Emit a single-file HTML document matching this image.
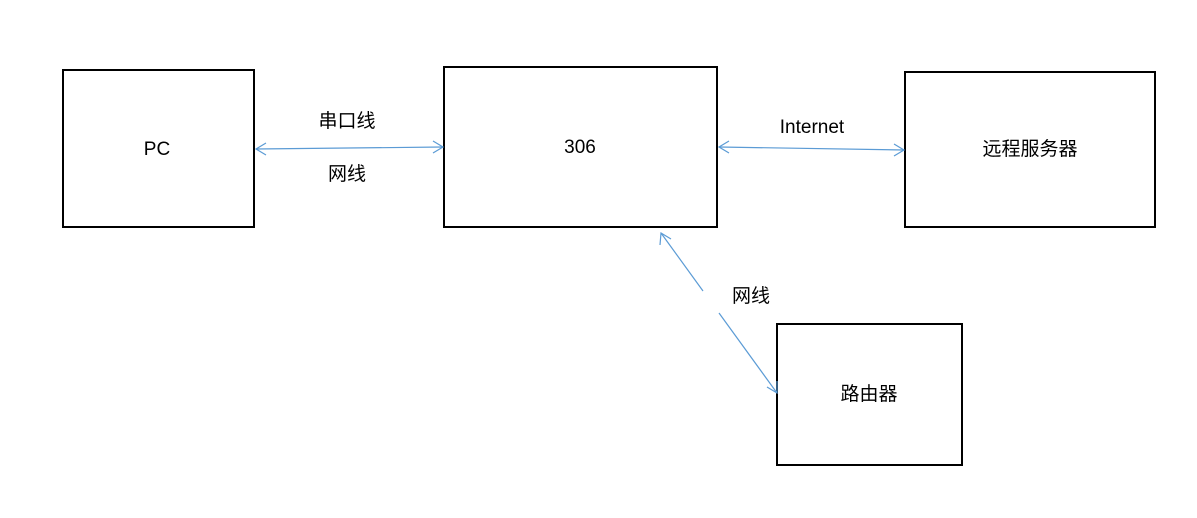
<!DOCTYPE html>
<html><head><meta charset="utf-8"><style>
html,body{margin:0;padding:0;background:#fff;}
svg{display:block;}
text{font-family:"Liberation Sans","Noto Sans CJK SC",sans-serif;font-size:19px;fill:#000;text-anchor:middle;dominant-baseline:middle;}
</style></head><body>
<svg width="1197" height="518" viewBox="0 0 1197 518">
<g fill="none" stroke="#000" stroke-width="2">
<rect x="63" y="70" width="191" height="157"/>
<rect x="444" y="67" width="273" height="160"/>
<rect x="905" y="72" width="250" height="155"/>
<rect x="777" y="324" width="185" height="141"/>
</g>
<g fill="none" stroke="#5b9bd5" stroke-width="1.2">
<line x1="256" y1="149" x2="443" y2="147"/>
<polyline points="266,143 256,149 266,155"/>
<polyline points="433,141 443,147 433,153"/>
<line x1="719" y1="147" x2="904" y2="150"/>
<polyline points="729,141 719,147 729,153"/>
<polyline points="894,144 904,150 894,156"/>
<line x1="661" y1="233" x2="703" y2="291"/>
<line x1="719" y1="313" x2="777" y2="393"/>
<polyline points="660,245 661,233 671,239"/>
<polyline points="777,381 777,393 767,387"/>
</g>
<text x="157" y="150">PC</text>
<text x="347" y="122">串口线</text>
<text x="347" y="175">网线</text>
<text x="580" y="148">306</text>
<text x="812" y="128">Internet</text>
<text x="1030" y="150">远程服务器</text>
<text x="751" y="297">网线</text>
<text x="869" y="395">路由器</text>
</svg>
</body></html>
